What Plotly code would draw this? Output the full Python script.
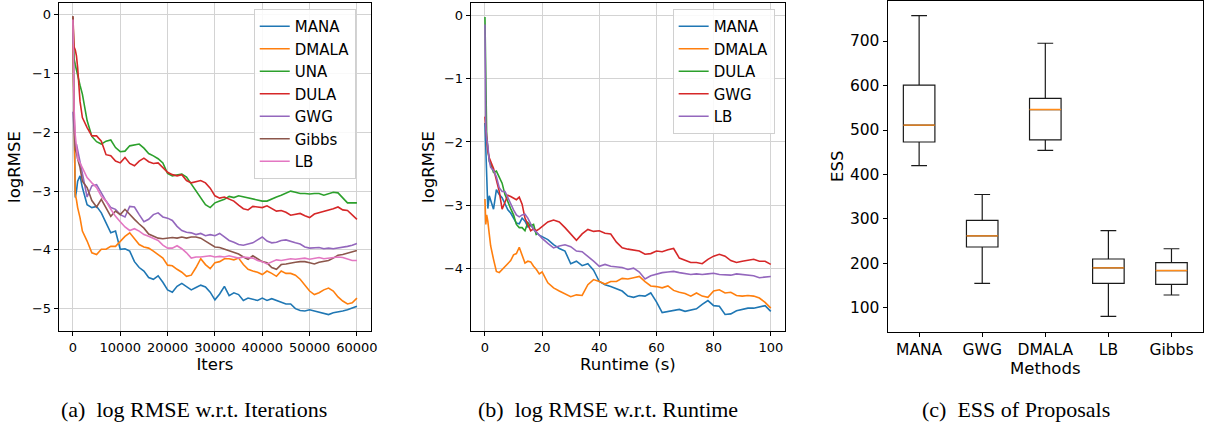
import plotly.graph_objects as go

# ---------------- data: panel (a) logRMSE vs iterations ----------------
ITERS = [0, 250, 500, 750, 1000, 1500, 2000, 3000, 4000, 5000, 6000, 7000, 8000, 9000,
         10000, 11000, 12000, 13000, 14000, 15000, 16000, 17000, 18000, 19000, 20000,
         21000, 22000, 23000, 24000, 25000, 26000, 27000, 28000, 29000, 30000, 31000,
         32000, 33000, 34000, 35000, 36000, 37000, 38000, 39000, 40000, 41000, 42000,
         43000, 44000, 45000, 46000, 47000, 48000, 49000, 50000, 51000, 52000, 53000,
         54000, 55000, 56000, 57000, 58000, 59000, 60000]

MANA_A = [-0.3, -2.0, -3.11, -3.0, -2.83, -2.74, -2.94, -3.23, -3.28, -3.26, -3.37, -3.54,
          -3.71, -3.68, -3.99, -3.98, -4.02, -4.2, -4.3, -4.36, -4.47, -4.5, -4.44, -4.55,
          -4.68, -4.72, -4.62, -4.57, -4.62, -4.68, -4.64, -4.6, -4.63, -4.72, -4.85, -4.75,
          -4.62, -4.78, -4.73, -4.76, -4.86, -4.82, -4.84, -4.86, -4.82, -4.86, -4.83, -4.86,
          -4.88, -4.92, -4.92, -5.0, -5.03, -5.04, -5.02, -5.04, -5.05, -5.07, -5.1, -5.07,
          -5.06, -5.04, -5.02, -4.99, -4.96]
DMALA_A = [-0.5, -2.2, -3.06, -3.15, -3.28, -3.45, -3.68, -3.85, -4.05, -4.08, -3.99, -3.99,
           -3.94, -3.94, -3.85, -3.77, -3.71, -3.82, -3.91, -3.95, -3.97, -4.02, -4.08, -4.14,
           -4.26, -4.27, -4.33, -4.38, -4.45, -4.43, -4.3, -4.15, -4.25, -4.32, -4.22, -4.2,
           -4.15, -4.15, -4.17, -4.14, -4.25, -4.33, -4.36, -4.38, -4.42, -4.36, -4.4, -4.45,
           -4.36, -4.4, -4.4, -4.43, -4.5, -4.6, -4.7, -4.76, -4.73, -4.68, -4.65, -4.7,
           -4.8, -4.87, -4.92, -4.9, -4.82]
UNA_A = [-0.05, -0.75, -0.85, -0.95, -1.05, -1.2, -1.35, -1.8, -2.07, -2.16, -2.2, -2.15,
         -2.13, -2.26, -2.33, -2.32, -2.23, -2.22, -2.2, -2.27, -2.36, -2.4, -2.45, -2.52,
         -2.7, -2.74, -2.73, -2.71, -2.76, -2.88, -3.0, -3.12, -3.23, -3.28, -3.2, -3.17,
         -3.14, -3.09, -3.11, -3.08, -3.1, -3.11, -3.14, -3.16, -3.17, -3.17, -3.13, -3.1,
         -3.07, -3.04, -3.0, -3.02, -3.04, -3.04, -3.05, -3.04, -3.04, -3.07, -3.05, -3.02,
         -3.03, -3.12, -3.2, -3.2, -3.2]
DULA_A = [-0.03, -0.55, -0.6, -0.7, -0.9, -1.47, -1.75, -1.92, -2.06, -2.06, -2.15, -2.38,
          -2.4, -2.49, -2.52, -2.43, -2.53, -2.57, -2.49, -2.44, -2.5, -2.53, -2.52, -2.6,
          -2.68, -2.72, -2.74, -2.72, -2.82, -2.86, -2.84, -2.82, -2.86, -2.95, -3.08, -3.12,
          -3.1, -3.13, -3.17, -3.24, -3.3, -3.32, -3.26, -3.27, -3.28, -3.25, -3.3, -3.34,
          -3.33, -3.36, -3.41, -3.4, -3.38, -3.42, -3.45, -3.39, -3.37, -3.35, -3.33, -3.3,
          -3.27, -3.32, -3.33, -3.4, -3.48]
GWG_A = [-1.65, -2.0, -2.25, -2.2, -2.3, -2.45, -2.7, -3.1, -2.91, -2.89, -3.03, -3.17,
         -3.28, -3.31, -3.4, -3.44, -3.26, -3.27, -3.4, -3.52, -3.48, -3.4, -3.37, -3.44,
         -3.46, -3.5, -3.6, -3.67, -3.7, -3.71, -3.74, -3.72, -3.76, -3.74, -3.76, -3.72,
         -3.78, -3.84, -3.87, -3.91, -3.92, -3.9, -3.88, -3.83, -3.78, -3.85, -3.88, -3.87,
         -3.84, -3.83, -3.86, -3.88, -3.9, -3.95, -3.97, -3.96, -3.96, -3.98, -3.97, -3.98,
         -3.97, -3.96, -3.94, -3.92, -3.89]
GIBBS_A = [-0.02, -1.7, -2.3, -2.35, -2.45, -2.6, -2.83, -2.94, -3.16, -3.27, -3.14, -3.28,
           -3.43, -3.34, -3.4, -3.31, -3.4, -3.48, -3.56, -3.63, -3.73, -3.77, -3.8, -3.81,
           -3.8, -3.79, -3.8, -3.78, -3.8, -3.78, -3.78, -3.8, -3.85, -3.9, -3.95, -3.96,
           -3.99, -4.02, -4.04, -4.07, -4.12, -4.16, -4.1, -4.15, -4.2, -4.22, -4.3, -4.33,
           -4.25, -4.24, -4.22, -4.21, -4.2, -4.2, -4.22, -4.24, -4.21, -4.2, -4.18, -4.14,
           -4.09, -4.08, -4.06, -4.04, -4.01]
LB_A = [-0.08, -1.6, -2.05, -2.3, -2.45, -2.52, -2.6, -2.77, -2.86, -2.94, -3.09, -3.17,
        -3.31, -3.43, -3.52, -3.61, -3.67, -3.64, -3.68, -3.74, -3.77, -3.81, -3.84, -3.92,
        -3.97, -3.97, -3.93, -3.98, -4.05, -4.14, -4.12, -4.12, -4.11, -4.1, -4.12, -4.11,
        -4.12, -4.1, -4.12, -4.14, -4.12, -4.13, -4.14, -4.18, -4.2, -4.24, -4.2, -4.17,
        -4.18, -4.17, -4.15, -4.16, -4.15, -4.14, -4.16, -4.15, -4.13, -4.15, -4.14, -4.13,
        -4.12, -4.13, -4.15, -4.18, -4.18]

# ---------------- data: panel (b) logRMSE vs runtime ----------------
RUNTIME = [0, 0.3, 0.6, 1, 1.5, 2, 3, 4, 5, 6, 7, 8, 9, 10, 11, 12, 13, 14, 15, 16, 17, 18,
           19, 20, 22, 24, 26, 28, 30, 32, 34, 36, 38, 40, 42, 44, 46, 48, 50, 52, 54, 56,
           58, 60, 62, 64, 66, 68, 70, 72, 74, 76, 78, 80, 82, 84, 86, 88, 90, 92, 94, 96,
           98, 100]

MANA_B = [-1.7, -2.2, -2.5, -3.05, -2.85, -2.92, -3.06, -2.75, -2.83, -2.88, -2.99, -3.07,
          -3.12, -3.2, -3.28, -3.29, -3.2, -3.25, -3.34, -3.31, -3.38, -3.43, -3.47, -3.49,
          -3.54, -3.62, -3.68, -3.72, -3.92, -3.88, -3.95, -3.92, -4.02, -4.2, -4.25, -4.28,
          -4.32, -4.35, -4.43, -4.45, -4.42, -4.43, -4.38, -4.52, -4.69, -4.67, -4.65, -4.64,
          -4.67, -4.65, -4.63, -4.56, -4.5, -4.58, -4.59, -4.72, -4.71, -4.66, -4.64, -4.62,
          -4.62, -4.6, -4.58, -4.67]
DMALA_B = [-2.9, -3.3, -3.15, -3.25, -3.45, -3.64, -3.85, -4.04, -4.06, -4.01, -3.96, -3.91,
           -3.87, -3.78, -3.76, -3.66, -3.78, -3.91, -3.88, -3.89, -3.96, -4.01, -4.08, -4.05,
           -4.22, -4.3, -4.35, -4.4, -4.44, -4.41, -4.42, -4.25, -4.17, -4.2, -4.24, -4.2,
           -4.2, -4.15, -4.16, -4.14, -4.12, -4.2, -4.27, -4.28, -4.3, -4.27, -4.34, -4.37,
           -4.39, -4.43, -4.38, -4.43, -4.45, -4.35, -4.33, -4.38, -4.37, -4.42, -4.43, -4.42,
           -4.43, -4.46, -4.53, -4.62]
DULA_B = [-0.03, -1.0, -1.9, -2.1, -2.3, -2.35, -2.48, -2.46, -2.55, -2.65, -2.83, -2.95,
          -3.05, -3.15, -3.3, -3.35, -3.35, -3.4, -3.27, -3.32, -3.3, -3.47]
GWG_B = [-1.6, -1.8, -2.05, -2.15, -2.25, -2.3, -2.42, -2.6, -2.78, -3.06, -2.95, -2.84,
         -2.86, -2.89, -2.91, -2.87, -2.98, -3.2, -3.3, -3.4, -3.37, -3.4, -3.37, -3.33,
         -3.26, -3.23, -3.26, -3.35, -3.45, -3.55, -3.45, -3.38, -3.41, -3.4, -3.44, -3.45,
         -3.58, -3.67, -3.69, -3.7, -3.72, -3.77, -3.76, -3.72, -3.73, -3.7, -3.68, -3.83,
         -3.87, -3.9, -3.9, -3.92, -3.85, -3.8, -3.77, -3.8, -3.87, -3.9, -3.88, -3.86,
         -3.85, -3.88, -3.88, -3.93]
LB_B = [-0.15, -1.75, -1.95, -2.05, -2.3, -2.4, -2.45, -2.55, -2.72, -2.78, -2.78, -2.88,
        -2.97, -3.07, -3.15, -3.18, -3.15, -3.14, -3.2, -3.3, -3.38, -3.42, -3.47, -3.52,
        -3.6, -3.67, -3.64, -3.62, -3.65, -3.72, -3.73, -3.8, -3.88, -3.96, -3.93, -3.96,
        -3.97, -3.98, -4.01, -3.99, -4.05, -4.16, -4.11, -4.08, -4.06, -4.05, -4.04, -4.06,
        -4.07, -4.09, -4.08, -4.09, -4.08, -4.07, -4.09, -4.1, -4.1, -4.08, -4.09, -4.1,
        -4.11, -4.14, -4.13, -4.12]

# ---------------- data: panel (c) ESS box plot ----------------
METHODS = ["MANA", "GWG", "DMALA", "LB", "Gibbs"]
ESS_LOWER = [420, 155, 454, 81, 129]
ESS_Q1 = [473, 237, 478, 155, 153]
ESS_MEDIAN = [511, 262, 546, 190, 184]
ESS_Q3 = [601, 297, 571, 210, 202]
ESS_UPPER = [757, 355, 695, 274, 233]

CAPTIONS = ["(a)  log RMSE w.r.t. Iterations", "(b)  log RMSE w.r.t. Runtime",
            "(c)  ESS of Proposals"]

# ---------------- styling ----------------
W, H = 1213, 425
C = {"blue": "#1f77b4", "orange": "#ff7f0e", "green": "#2ca02c", "red": "#d62728",
     "purple": "#9467bd", "brown": "#8c564b", "pink": "#e377c2"}
FONT = "DejaVu Sans"
TICKF = dict(family=FONT, size=13, color="black")
TITLEF = dict(family=FONT, size=16.5, color="black")
LW = 1.6


def px_x(v):
    return v / W


def px_y(v):
    return 1 - v / H


def dom_x(a, b):
    return [px_x(a), px_x(b)]


def dom_y(top, bottom):
    return [px_y(bottom), px_y(top)]


fig = go.Figure()

series_a = [("MANA", MANA_A, C["blue"]), ("DMALA", DMALA_A, C["orange"]),
            ("UNA", UNA_A, C["green"]), ("DULA", DULA_A, C["red"]),
            ("GWG", GWG_A, C["purple"]), ("Gibbs", GIBBS_A, C["brown"]),
            ("LB", LB_A, C["pink"])]
for name, ys, col in series_a:
    fig.add_trace(go.Scatter(x=ITERS[:len(ys)], y=ys, name=name, mode="lines",
                             line=dict(color=col, width=LW), xaxis="x", yaxis="y",
                             legend="legend"))

series_b = [("MANA", MANA_B, C["blue"]), ("DMALA", DMALA_B, C["orange"]),
            ("DULA", DULA_B, C["green"]), ("GWG", GWG_B, C["red"]),
            ("LB", LB_B, C["purple"])]
for name, ys, col in series_b:
    fig.add_trace(go.Scatter(x=RUNTIME[:len(ys)], y=ys, name=name, mode="lines",
                             line=dict(color=col, width=LW), xaxis="x2", yaxis="y2",
                             legend="legend2"))

positions = list(range(1, len(METHODS) + 1))
for i, m in enumerate(METHODS):
    fig.add_trace(go.Box(x=[positions[i]], q1=[ESS_Q1[i]], median=[ESS_MEDIAN[i]],
                         q3=[ESS_Q3[i]], lowerfence=[ESS_LOWER[i]],
                         upperfence=[ESS_UPPER[i]], name=m, width=0.5, whiskerwidth=0.5,
                         boxpoints=False, fillcolor="rgba(0,0,0,0)",
                         line=dict(color="#1a1a1a", width=1.2), xaxis="x3", yaxis="y3",
                         showlegend=False, hoverinfo="skip"))
mx, my = [], []
for i in range(len(METHODS)):
    mx += [positions[i] - 0.25, positions[i] + 0.25, None]
    my += [ESS_MEDIAN[i], ESS_MEDIAN[i], None]
fig.add_trace(go.Scatter(x=mx, y=my, mode="lines", line=dict(color="#ff8c1a", width=1.4),
                         xaxis="x3", yaxis="y3", showlegend=False, hoverinfo="skip"))

axis_common = dict(showline=True, mirror=True, linecolor="black", linewidth=1,
                   ticks="outside", ticklen=4, tickwidth=1, tickcolor="black",
                   zeroline=False, tickfont=TICKF)
grid = dict(showgrid=True, gridcolor="#d3d3d3", gridwidth=1.2)
BIGTICK = dict(family=FONT, size=15.5, color="black")

legend_style = dict(font=dict(family=FONT, size=15, color="black"),
                    bgcolor="rgba(255,255,255,0.85)", bordercolor="#d0d0d0", borderwidth=1,
                    xanchor="left", yanchor="top", xref="paper", yref="paper")

fig.update_layout(
    width=W, height=H, margin=dict(l=0, r=0, t=0, b=0),
    paper_bgcolor="white", plot_bgcolor="white", showlegend=True,
    xaxis=dict(domain=dom_x(59, 373), range=[-3000, 63000],
               tickvals=[0, 10000, 20000, 30000, 40000, 50000, 60000], tickformat="d",
               title=dict(text="Iters", font=TITLEF, standoff=4), anchor="y",
               **axis_common, **grid),
    yaxis=dict(domain=dom_y(3, 331), range=[-5.38, 0.2], tickvals=[-5, -4, -3, -2, -1, 0],
               title=dict(text="logRMSE", font=TITLEF, standoff=7), anchor="x",
               **axis_common, **grid),
    xaxis2=dict(domain=dom_x(473, 789), range=[-5, 105], tickvals=[0, 20, 40, 60, 80, 100],
                title=dict(text="Runtime (s)", font=TITLEF, standoff=4), anchor="y2",
                **axis_common, **grid),
    yaxis2=dict(domain=dom_y(3, 331), range=[-4.98, 0.19], tickvals=[-4, -3, -2, -1, 0],
                title=dict(text="logRMSE", font=TITLEF, standoff=5), anchor="x2",
                **axis_common, **grid),
    xaxis3=dict(domain=dom_x(892, 1209), range=[0.5, 5.5], tickvals=positions,
                ticktext=METHODS, anchor="y3", showgrid=False,
                title=dict(text="Methods", font=TITLEF, standoff=0),
                **{**axis_common, "tickfont": BIGTICK}),
    yaxis3=dict(domain=dom_y(1, 331.5), range=[47, 790],
                tickvals=[100, 200, 300, 400, 500, 600, 700], anchor="x3", showgrid=False,
                title=dict(text="ESS", font=TITLEF, standoff=2),
                **{**axis_common, "tickfont": BIGTICK}),
    legend=dict(x=px_x(255), y=px_y(9), **legend_style),
    legend2=dict(x=px_x(676), y=px_y(9), **legend_style),
)

cap_x = [195, 611, 1021]
for cx, txt in zip(cap_x, CAPTIONS):
    fig.add_annotation(text=txt, x=px_x(cx), y=px_y(409), xref="paper", yref="paper",
                       xanchor="center", yanchor="middle", showarrow=False,
                       font=dict(family="Liberation Serif", size=22, color="black"))

# the page's default 8 px body margin would push the figure out of the window
fig.write_html("out.html", config={"displayModeBar": False},
               post_script="document.body.style.margin='0';"
                           "document.body.style.overflow='hidden';")
